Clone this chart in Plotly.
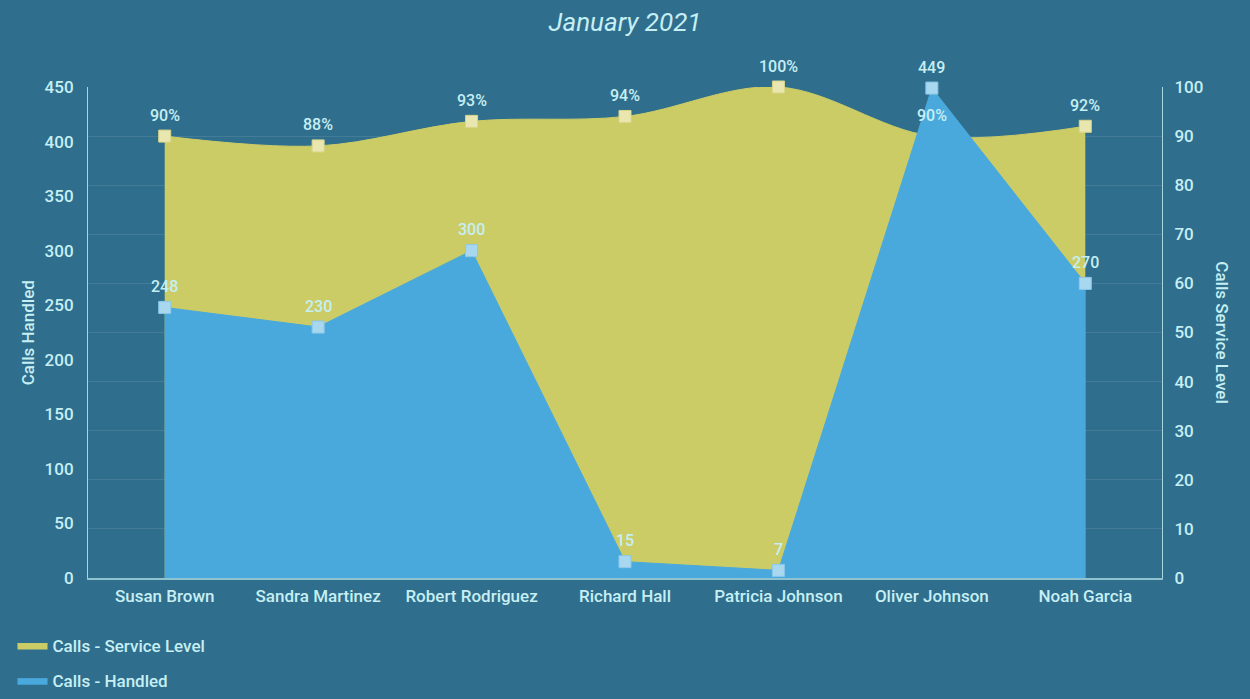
import plotly.graph_objects as go

agents = ["Susan Brown", "Sandra Martinez", "Robert Rodriguez", "Richard Hall",
          "Patricia Johnson", "Oliver Johnson", "Noah Garcia"]
calls_handled = [248, 230, 300, 15, 7, 449, 270]
service_level = [90, 88, 93, 94, 100, 90, 92]

BG = "#2f6e8c"
TXT = "#c6eff4"
YEL = "#cccc66"
BLU = "#4aa9dc"
FONT = "Roboto"
W = 500

fig = go.Figure()

fig.add_trace(go.Scatter(
    x=agents, y=service_level, name="Calls - Service Level", showlegend=False,
    mode="lines+markers", line=dict(color=YEL, width=1, shape="spline", smoothing=1.0),
    fill="tozeroy", fillcolor=YEL, cliponaxis=False,
    marker=dict(symbol="square", size=12, color="#e9e6b0", line=dict(color="#d9d68a", width=1)),
    yaxis="y", hoverinfo="x+y",
))
fig.add_trace(go.Scatter(
    x=agents, y=calls_handled, name="Calls - Handled", showlegend=False,
    mode="lines+markers", line=dict(color=BLU, width=1),
    fill="tozeroy", fillcolor=BLU, cliponaxis=False,
    marker=dict(symbol="square", size=12, color="#a8d7f0", line=dict(color="#8cc8ea", width=1)),
    yaxis="y2", hoverinfo="x+y",
))
# legend entries (area icons)
fig.add_trace(go.Scatter(x=[None], y=[None], name="Calls - Service Level", mode="lines",
                         line=dict(color=YEL, width=1), fill="tozeroy", fillcolor=YEL,
                         legendgroup="a", yaxis="y"))
fig.add_trace(go.Scatter(x=[None], y=[None], name="Calls - Handled", mode="lines",
                         line=dict(color=BLU, width=1), fill="tozeroy", fillcolor=BLU,
                         legendgroup="b", yaxis="y2"))

annotations = []
for a, v in zip(agents, service_level):
    annotations.append(dict(x=a, y=v, xref="x", yref="y", text=f"{v}%", showarrow=False,
                            yshift=21, font=dict(family=FONT, size=16, color=TXT, weight=W)))
for a, v in zip(agents, calls_handled):
    annotations.append(dict(x=a, y=v, xref="x", yref="y2", text=str(v), showarrow=False,
                            yshift=21, font=dict(family=FONT, size=16, color=TXT, weight=W)))

annotations.append(dict(text="Calls Handled", xref="paper", yref="paper", x=-0.056, y=0.5,
                        xanchor="center", yanchor="middle",
                        textangle=-90, showarrow=False,
                        font=dict(family=FONT, size=17, color=TXT, weight=W)))
annotations.append(dict(text="Calls Service Level", xref="paper", yref="paper", x=1.056, y=0.5,
                        xanchor="center", yanchor="middle",
                        textangle=90, showarrow=False,
                        font=dict(family=FONT, size=17, color=TXT, weight=W)))

tf = dict(family=FONT, size=17, color=TXT, weight=W)

fig.update_layout(
    width=1250, height=699,
    paper_bgcolor=BG, plot_bgcolor=BG,
    margin=dict(l=88, r=88, t=87, b=121, autoexpand=False),
    font=dict(family=FONT, color=TXT, size=16),
    title=dict(text="<i>January 2021</i>", x=0.5, xanchor="center", y=0.968, yanchor="middle",
               font=dict(family=FONT, size=26, color=TXT)),
    showlegend=True,
    legend=dict(xref="container", yref="container", x=0.01, y=0.0, xanchor="left", yanchor="bottom",
                orientation="v", font=dict(family=FONT, size=17, color=TXT, weight=W),
                bgcolor="rgba(0,0,0,0)", tracegroupgap=10, traceorder="grouped"),
    xaxis=dict(range=[-0.5, 6.5], showgrid=False, showline=True, linecolor="#8fc3cf", linewidth=2,
               ticks="", tickfont=tf, zeroline=False, tickangle=0, ticklabelstandoff=2),
    yaxis=dict(range=[0, 100], side="right", dtick=10, showgrid=True,
               gridcolor="rgba(255,255,255,0.10)", gridwidth=1, showline=True,
               linecolor="#a7d6de", linewidth=1, ticks="", zeroline=False,
               tickfont=tf, ticklabelstandoff=8),
    yaxis2=dict(range=[0, 450], side="left", overlaying="y", dtick=50, showgrid=False,
                showline=True, linecolor="#a7d6de", linewidth=1, ticks="", zeroline=False,
                tickfont=tf, ticklabelstandoff=10),
    annotations=annotations,
)

fig.write_html("out.html")
